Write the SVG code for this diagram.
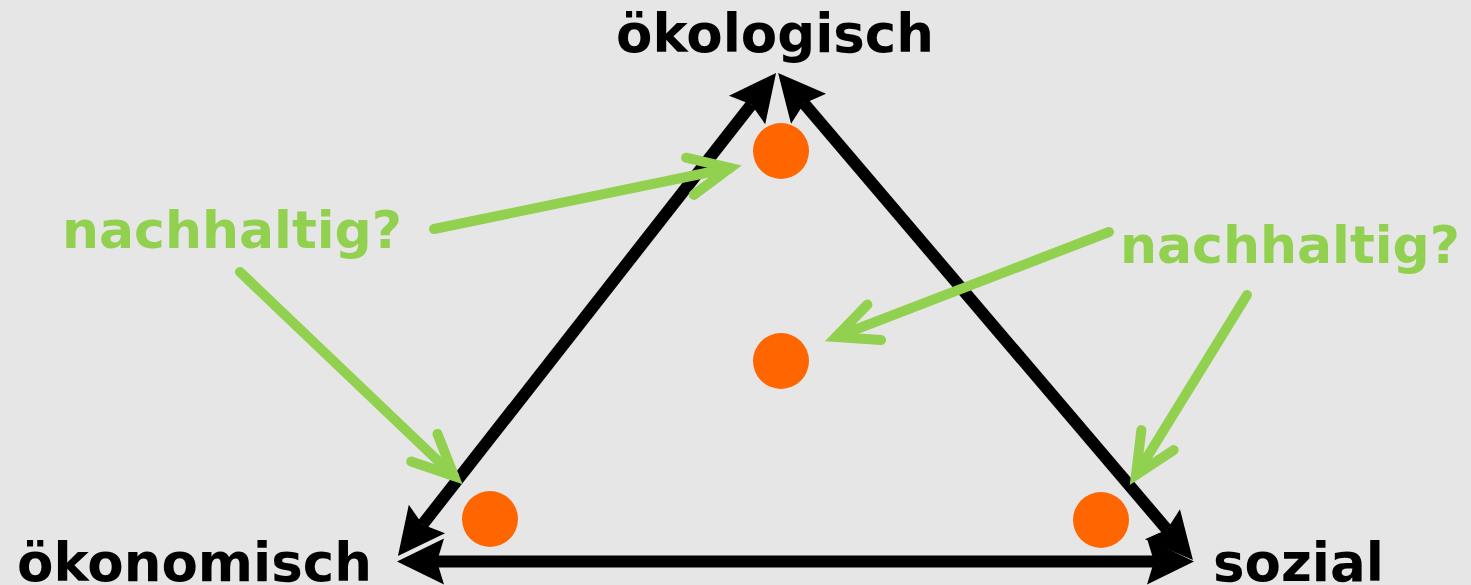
<svg xmlns="http://www.w3.org/2000/svg" width="1471" height="585" viewBox="0 0 1471 585">
  <style>
    .axis { fill: none; stroke: #000000; stroke-width: 12; marker-start: url(#blk); marker-end: url(#blk); }
    .hint { fill: none; stroke: #92D050; stroke-width: 10; stroke-linecap: round; marker-end: url(#grn); }
    .dot { fill: #FF6600; }
    .lbl { font-family: "DejaVu Sans", Verdana, sans-serif; font-weight: bold; font-size: 53px; }
    .blk { fill: #000000; }
    .grn { fill: #92D050; font-size: 52px; }
  </style>
  <defs>
    <marker id="blk" markerUnits="userSpaceOnUse" orient="auto-start-reverse" refX="0" refY="0" markerWidth="100" markerHeight="100" viewBox="-50 -50 100 100" overflow="visible">
      <path d="M40,0 L-7,-23 L0,0 L-7,23 Z" fill="#000000"/>
    </marker>
    <marker id="grn" markerUnits="userSpaceOnUse" orient="auto" refX="0" refY="0" markerWidth="100" markerHeight="100" viewBox="-50 -50 100 100" overflow="visible">
      <path d="M-41,-19 L0,0 L-41,19" fill="none" stroke="#92D050" stroke-width="10" stroke-linecap="round" stroke-linejoin="miter"/>
    </marker>
  </defs>
  <rect x="0" y="0" width="1471" height="585" fill="#E6E6E6"/>

  <g id="connectors">
    <path class="axis" d="M751.4,104.5 L422.6,524.5"/>
    <path class="axis" d="M804,103.4 L1167,529.6"/>
    <path class="axis" d="M437,561.5 L1154,561.5"/>
  </g>

  <g id="dot-top"><circle class="dot" cx="781" cy="151" r="28"/></g>
  <g id="dot-center"><circle class="dot" cx="781" cy="361" r="28"/></g>
  <g id="dot-left"><circle class="dot" cx="490" cy="519" r="28"/></g>
  <g id="dot-right"><circle class="dot" cx="1101" cy="520" r="28"/></g>

  <g id="hint-arrows">
    <path class="hint" d="M434,229 L730,168"/>
    <path class="hint" d="M240,272 L454,476"/>
    <path class="hint" d="M1109,232 L836,337"/>
    <path class="hint" d="M1247,295 L1136,475"/>
  </g>

  <g id="label-oekologisch"><text class="lbl blk" x="775" y="52" text-anchor="middle">ökologisch</text></g>
  <g id="label-oekonomisch"><text class="lbl blk" x="17" y="581">ökonomisch</text></g>
  <g id="label-sozial"><text class="lbl blk" x="1213" y="581" font-size="51">sozial</text></g>
  <g id="label-nachhaltig-left"><text class="lbl grn" x="62" y="248">nachhaltig?</text></g>
  <g id="label-nachhaltig-right"><text class="lbl grn" x="1120" y="263">nachhaltig?</text></g>
</svg>
